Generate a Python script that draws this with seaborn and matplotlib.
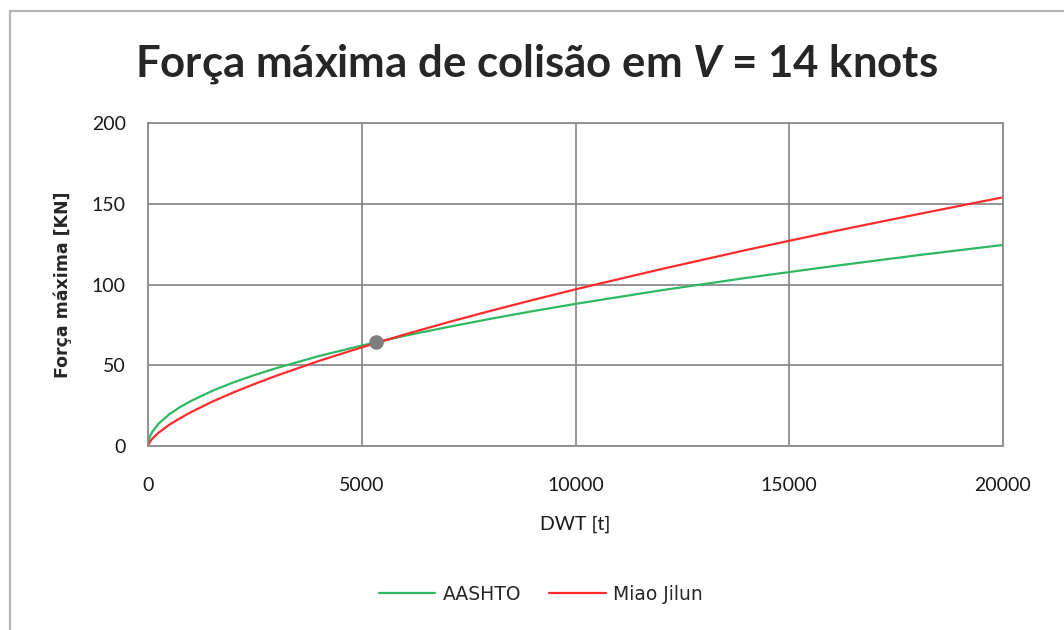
import numpy as np
import pandas as pd
import seaborn as sns
import matplotlib.pyplot as plt
from matplotlib.lines import Line2D

# values
dwt = [0, 25, 50, 100, 250, 500, 750, 1000, 1500, 2000, 2500, 3000, 4000, 5000,
       6000, 7000, 8000, 9000, 10000, 12000, 14000, 16000, 18000, 20000]
aashto = [0, 4.4, 6.2, 8.8, 13.9, 19.7, 24.1, 27.8, 34.1, 39.4, 44.0, 48.2, 55.7,
          62.2, 68.2, 73.6, 78.7, 83.5, 88.0, 96.4, 104.1, 111.3, 118.1, 124.5]
miao = [0, 1.8, 2.8, 4.5, 8.3, 13.2, 17.2, 20.9, 27.4, 33.2, 38.5, 43.5, 52.7,
        61.1, 69.0, 76.5, 83.6, 90.4, 97.0, 109.5, 121.4, 132.7, 143.5, 154.0]
series_names = ['AASHTO', 'Miao Jilun']
point_dwt = [5330]
point_force = [64.6]
x_ticks = [0, 5000, 10000, 15000, 20000]
y_ticks = [0, 50, 100, 150, 200]

df = pd.DataFrame({
    'DWT': dwt * 2,
    'Forca': aashto + miao,
    'Serie': [series_names[0]] * len(dwt) + [series_names[1]] * len(dwt),
})

sns.set_style('white')
plt.rcParams['font.family'] = ['Lato', 'DejaVu Sans']
plt.rcParams['mathtext.fontset'] = 'custom'
plt.rcParams['mathtext.it'] = 'Lato:italic:bold'
plt.rcParams['mathtext.rm'] = 'Lato:bold'

grid_col = '#8c8c8c'
fig = plt.figure(figsize=(10.64, 6.30), dpi=100)
ax = fig.add_axes([148 / 1064, 1 - 446 / 630, 855 / 1064, 323 / 630])

sns.lineplot(data=df, x='DWT', y='Forca', hue='Serie', ax=ax,
             palette={'AASHTO': '#2fb862', 'Miao Jilun': '#ff2b2b'},
             linewidth=1.6, legend=False)
ax.scatter(point_dwt, point_force, s=110, color='#7f7f7f', zorder=5, linewidths=0)

ax.set_xlim(0, 20000)
ax.set_ylim(0, 200)
ax.set_xticks(x_ticks)
ax.set_yticks(y_ticks)
ax.grid(True, color=grid_col, linewidth=1.3)
for s in ax.spines.values():
    s.set_color(grid_col)
    s.set_linewidth(1.3)
ax.tick_params(axis='x', length=0, pad=22, labelsize=14, labelcolor='#1a1a1a')
ax.tick_params(axis='y', length=0, pad=16, labelsize=14, labelcolor='#1a1a1a')
ax.set_xlabel('DWT [t]', fontsize=14, labelpad=16, color='#1a1a1a')
ax.set_ylabel('Força máxima [KN]', fontsize=12.5, fontweight='bold', labelpad=14,
              family='DejaVu Sans')

fig.text(537 / 1064, 1 - 64 / 630, r'Força máxima de colisão em $V$ = 14 knots',
         ha='center', va='center', fontsize=31.5, fontweight='bold')

handles = [Line2D([], [], color='#2fb862', lw=1.6), Line2D([], [], color='#ff2b2b', lw=1.6)]
fig.legend(handles, series_names, loc='center', bbox_to_anchor=(541 / 1064, 1 - 594 / 630),
           ncol=2, frameon=False, handlelength=3.0, columnspacing=1.5, handletextpad=0.4,
           prop={'family': 'DejaVu Sans', 'size': 13.5})

# chart area border (left and top visible)
fig.add_artist(Line2D([9.5 / 1064, 9.5 / 1064], [0, 1 - 10.5 / 630],
                      transform=fig.transFigure, color='#b4b4b4', lw=1.6))
fig.add_artist(Line2D([9.5 / 1064, 1], [1 - 10.5 / 630, 1 - 10.5 / 630],
                      transform=fig.transFigure, color='#b4b4b4', lw=1.6))

fig.savefig('out.png', dpi=100)
